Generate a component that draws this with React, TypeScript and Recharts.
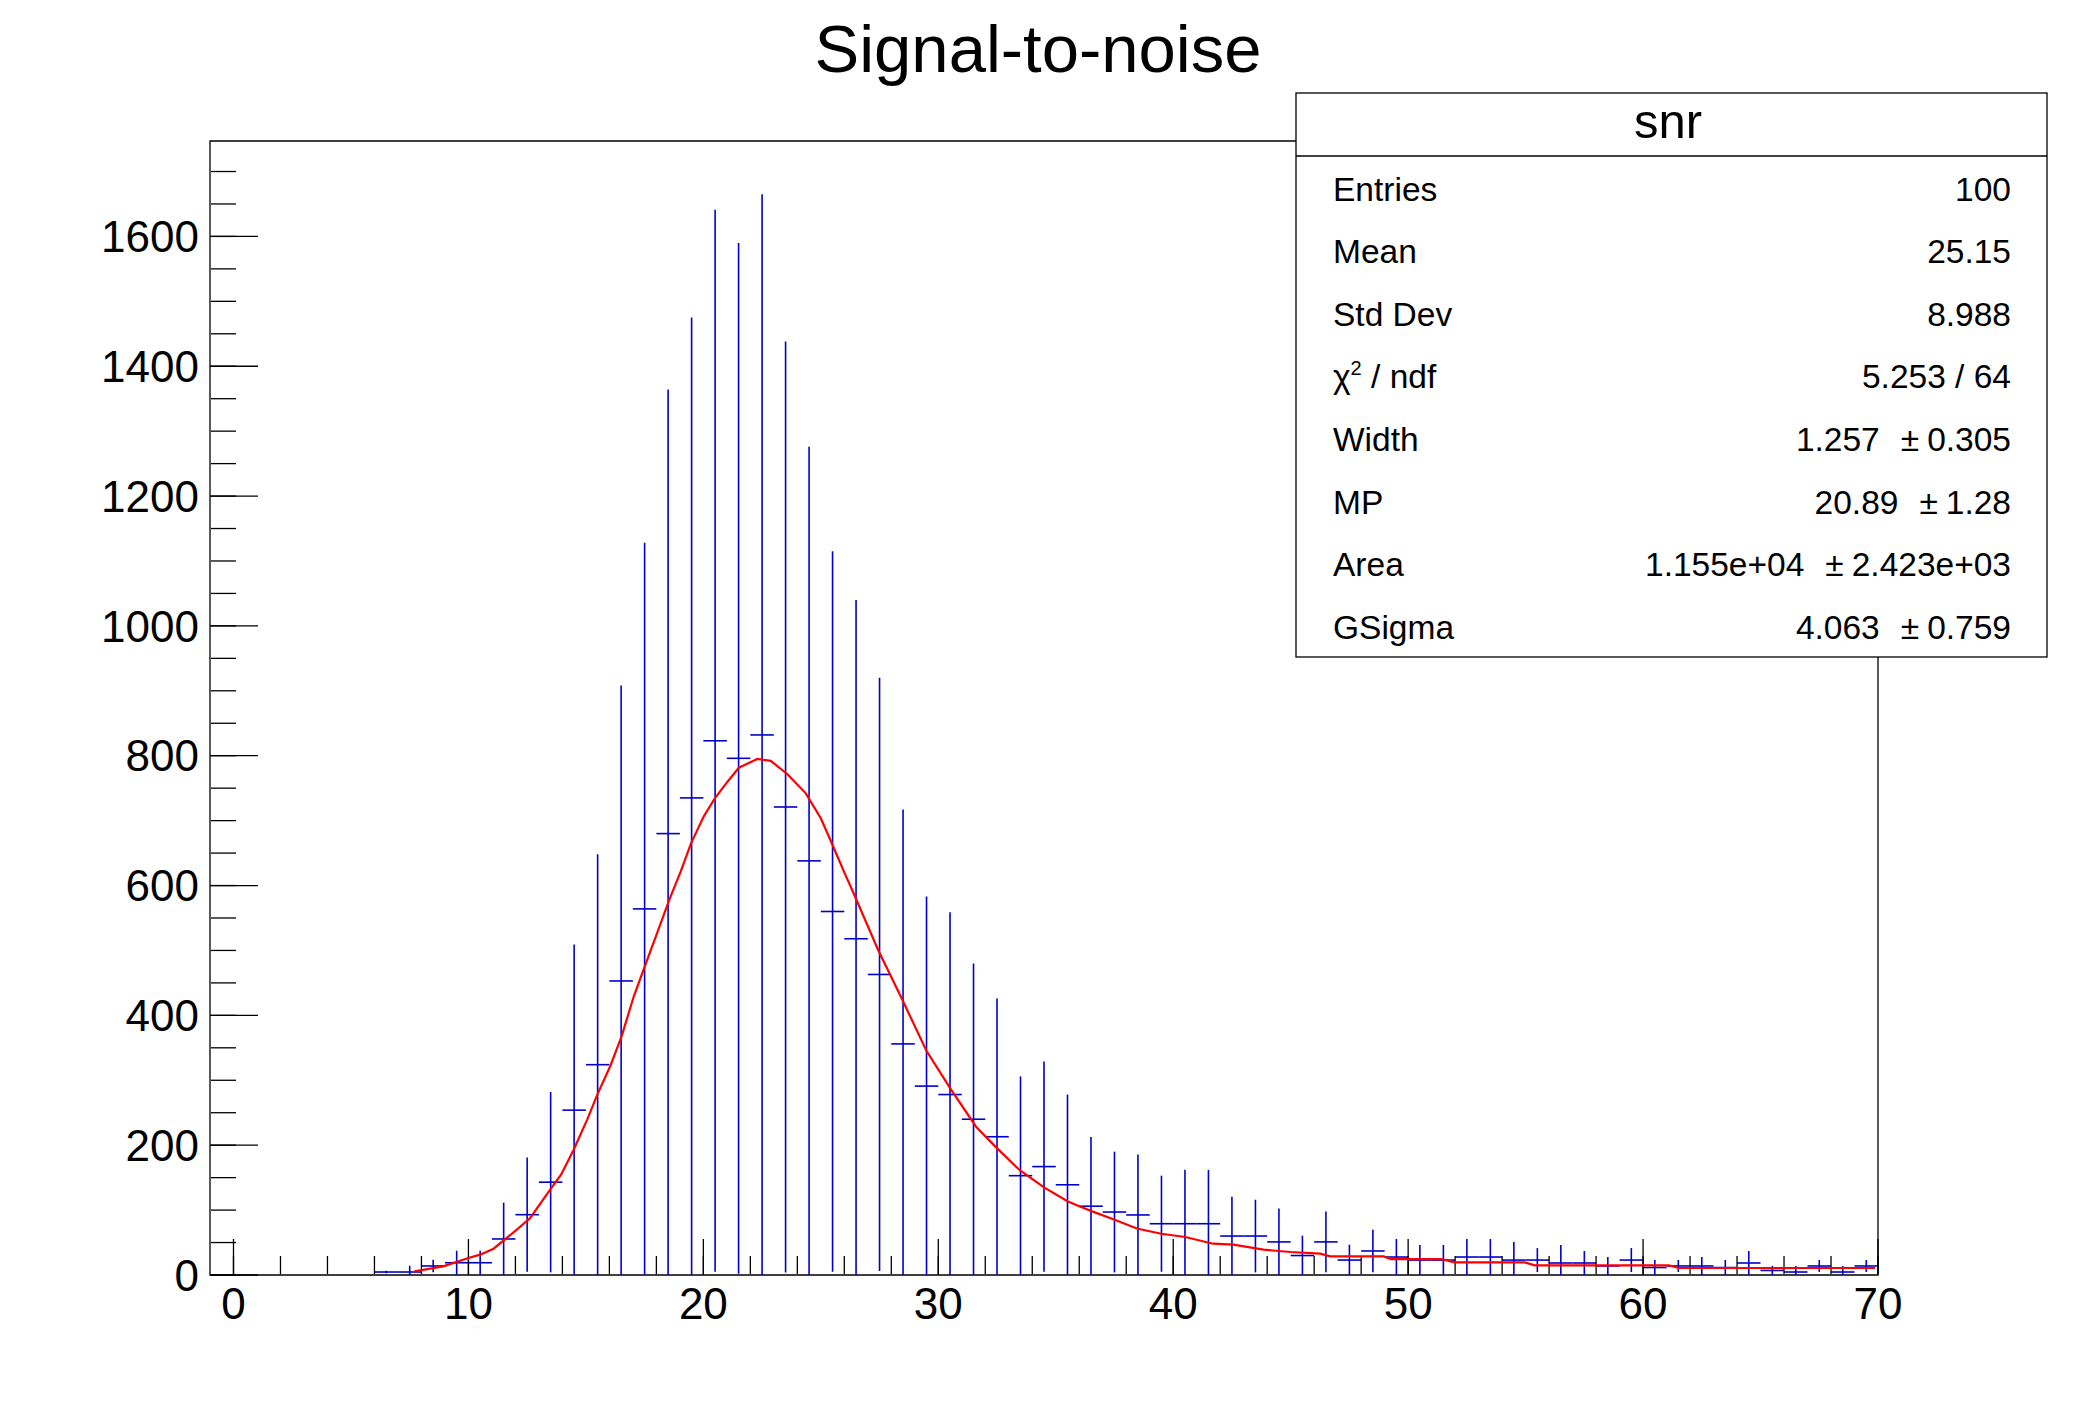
import React from 'react';
import { ScatterChart, Scatter, XAxis, YAxis, ErrorBar, ReferenceArea } from 'recharts';

const FONT = '"Liberation Sans", Arial, Helvetica, sans-serif';

// Histogram bins (bin centres), contents and errors
const binCenters = [6.5, 7.5, 8.5, 9.5, 10.5, 11.5, 12.5, 13.5, 14.5, 15.5, 16.5, 17.5, 18.5, 19.5, 20.5, 21.5, 22.5, 23.5, 24.5, 25.5, 26.5, 27.5, 28.5, 29.5, 30.5, 31.5, 32.5, 33.5, 34.5, 35.5, 36.5, 37.5, 38.5, 39.5, 40.5, 41.5, 42.5, 43.5, 44.5, 45.5, 46.5, 47.5, 48.5, 49.5, 50.5, 51.5, 52.5, 53.5, 54.5, 55.5, 56.5, 57.5, 58.5, 59.5, 60.5, 61.5, 62.5, 63.5, 64.5, 65.5, 66.5, 67.5, 68.5, 69.5];
const binValues = [4.6, 4.6, 13.9, 18.9, 18.9, 55.5, 92.9, 143, 254, 324, 453, 564, 680, 735, 823, 796, 832, 721, 638, 560, 518, 463, 356, 291, 278, 240, 213, 153, 167, 139, 106, 97, 92.5, 79, 79, 79, 60, 60, 51, 30, 51, 23, 37, 27.7, 23, 23, 27.7, 27.7, 23, 23, 18.5, 18.5, 13.9, 23, 11.5, 13.9, 13.9, 11.5, 18.5, 7, 4.6, 13.9, 4.6, 13.9];
const binErrors = [2, 9.7, 9.7, 18.5, 18.5, 56, 88, 139, 255, 324, 455, 564, 684, 740, 818, 794, 833, 717, 638, 555, 522, 457, 361, 292, 281, 240, 213, 153, 162, 139, 106.5, 93, 93, 74, 83, 83, 60.6, 56, 51.4, 30.6, 46.7, 23.7, 32.8, 27.8, 23.2, 23.2, 27.8, 27.8, 27.7, 18.5, 27.7, 18.5, 13.8, 18.5, 11.6, 9.2, 13.8, 11.6, 18.5, 7, 9.3, 9.2, 9.3, 9.2];

// Fit function (Landau x Gauss) sampled points
const fitX = [7.7, 8.93, 10.0, 10.5, 11.07, 11.54, 12.06, 12.63, 13.48, 13.95, 14.48, 15.05, 15.5, 16.04, 16.52, 17.04, 17.55, 18.03, 18.57, 19.03, 19.48, 20.02, 20.49, 21.02, 21.51, 22.3, 22.87, 23.58, 24.36, 25.0, 25.5, 25.99, 26.33, 27.44, 28.46, 29.49, 30.51, 31.6, 32.43, 33.47, 34.5, 35.5, 36.0, 36.55, 37.56, 38.45, 39.49, 40.51, 41.7, 42.56, 43.84, 44.98, 46.26, 46.68, 48.96, 49.26, 51.4, 51.97, 54.97, 55.39, 61.1, 61.53, 69.88];
const fitY = [5.6, 13.3, 26.2, 31.3, 40.5, 54.4, 69.8, 87.8, 131.4, 155, 193, 239, 279, 322, 367.6, 429.4, 479.6, 526.8, 579.8, 621, 665.3, 706.6, 734.4, 759.6, 781.5, 795, 792, 771.5, 742, 703.7, 662.4, 621, 593.4, 500.6, 424.8, 345.8, 287.4, 228.8, 197.8, 161.5, 135, 113.7, 106, 98, 84.3, 71.6, 63.6, 58.5, 48.2, 46.7, 39, 35.4, 32.8, 28.7, 28.7, 24.6, 24.6, 19.4, 19.4, 14.8, 14.8, 10.8, 10.8];

// Axis ticks
const xMajorTicks = [0, 10, 20, 30, 40, 50, 60, 70];
const xMinorTicks = [0, 2, 4, 6, 8, 10, 12, 14, 16, 18, 20, 22, 24, 26, 28, 30, 32, 34, 36, 38, 40, 42, 44, 46, 48, 50, 52, 54, 56, 58, 60, 62, 64, 66, 68, 70];
const yMajorTicks = [0, 200, 400, 600, 800, 1000, 1200, 1400, 1600];
const yMinorTicks = [0, 50, 100, 150, 200, 250, 300, 350, 400, 450, 500, 550, 600, 650, 700, 750, 800, 850, 900, 950, 1000, 1050, 1100, 1150, 1200, 1250, 1300, 1350, 1400, 1450, 1500, 1550, 1600, 1650, 1700];

// Stats box
const statLabels = ['Entries', 'Mean', 'Std Dev', 'CHI', 'Width', 'MP', 'Area', 'GSigma'];
const statValues = ['100', '25.15', '8.988', '5.253 / 64', '1.257', '20.89', '1.155e+04', '4.063'];
const statErrors = ['', '', '', '', '0.305', '1.28', '2.423e+03', '0.759'];

const X_DOMAIN: [number, number] = [-1, 70];
const Y_DOMAIN: [number, number] = [0, 1747];
const BLUE = '#0000cc';
const TICK_LINE = { stroke: '#000', strokeWidth: 1.3 };
const STAT_FS = 33.5;

const histData = binCenters.map((x, i) => ({
  x,
  y: binValues[i],
  ex: 0.5,
  ey: [Math.min(binValues[i], binErrors[i]), binErrors[i]],
}));
const fitData = fitX.map((x, i) => ({ x, y: fitY[i] }));

const Empty = () => <g />;
const NoLabel = () => <g />;

export default function App() {
  const rowY = (i: number) => 200.5 + 62.6 * i;
  return (
    <div style={{ position: 'absolute', left: 0, top: 0, width: 2088, height: 1416, background: '#fff' }}>
      <ScatterChart width={2088} height={1416} margin={{ top: 141, right: 210, bottom: 140, left: 209 }}>
        <XAxis xAxisId="x" type="number" dataKey="x" domain={X_DOMAIN} allowDataOverflow ticks={xMajorTicks} interval={0}
          height={1} tickSize={0} tickMargin={13} axisLine={false} tickLine={false}
          tick={{ fontSize: 44, fill: '#000', fontFamily: FONT }} />
        <XAxis xAxisId="xmaj" type="number" dataKey="x" domain={X_DOMAIN} allowDataOverflow ticks={xMajorTicks} interval={0}
          height={1} mirror tickSize={36} tick={NoLabel} axisLine={false} tickLine={TICK_LINE} />
        <XAxis xAxisId="xmin" type="number" dataKey="x" domain={X_DOMAIN} allowDataOverflow ticks={xMinorTicks} interval={0}
          height={1} mirror tickSize={18} tick={NoLabel} axisLine={false} tickLine={TICK_LINE} />
        <YAxis yAxisId="y" type="number" dataKey="y" domain={Y_DOMAIN} allowDataOverflow ticks={yMajorTicks} interval={0}
          width={1} tickSize={0} tickMargin={11} axisLine={false} tickLine={false}
          tick={{ fontSize: 44, fill: '#000', fontFamily: FONT }} />
        <YAxis yAxisId="ymaj" type="number" dataKey="y" domain={Y_DOMAIN} allowDataOverflow ticks={yMajorTicks} interval={0}
          width={1} mirror tickSize={48} tick={NoLabel} axisLine={false} tickLine={TICK_LINE} />
        <YAxis yAxisId="ymin" type="number" dataKey="y" domain={Y_DOMAIN} allowDataOverflow ticks={yMinorTicks} interval={0}
          width={1} mirror tickSize={25} tick={NoLabel} axisLine={false} tickLine={TICK_LINE} />
        <ReferenceArea xAxisId="x" yAxisId="y" x1={X_DOMAIN[0]} x2={X_DOMAIN[1]} y1={Y_DOMAIN[0]} y2={Y_DOMAIN[1]}
          fill="none" fillOpacity={0} stroke="#000" strokeWidth={1.3} ifOverflow="visible" />
        <Scatter xAxisId="xmaj" yAxisId="ymaj" data={fitData} shape={Empty} isAnimationActive={false} />
        <Scatter xAxisId="xmin" yAxisId="ymin" data={fitData} shape={Empty} isAnimationActive={false} />
        <Scatter xAxisId="x" yAxisId="y" data={histData} shape={Empty} isAnimationActive={false}>
          <ErrorBar dataKey="ex" direction="x" width={0} stroke={BLUE} strokeWidth={1.6} isAnimationActive={false} />
          <ErrorBar dataKey="ey" direction="y" width={0} stroke={BLUE} strokeWidth={1.6} isAnimationActive={false} />
        </Scatter>
        <Scatter xAxisId="x" yAxisId="y" data={fitData} shape={Empty} line={{ stroke: '#ff0000', strokeWidth: 2.2 }}
          lineType="joint" isAnimationActive={false} />
      </ScatterChart>
      <svg width={2088} height={1416} style={{ position: 'absolute', left: 0, top: 0, pointerEvents: 'none' }}
        fontFamily={FONT}>
        <text x={1038} y={72} fontSize={67} textAnchor="middle" fill="#000">Signal-to-noise</text>
        <rect x={1296} y={93} width={751} height={564} fill="#fff" stroke="#000" strokeWidth={1.3} />
        <line x1={1296} x2={2047} y1={156} y2={156} stroke="#000" strokeWidth={1.3} />
        <text x={1668} y={138} fontSize={49} textAnchor="middle" fill="#000">snr</text>
        {statLabels.map((lab, i) => (
          lab === 'CHI' ? (
            <text key={'l' + i} x={1333} y={rowY(i)} fontSize={STAT_FS} fill="#000">
              χ<tspan dy={-13} fontSize={20}>2</tspan><tspan dy={13} fontSize={STAT_FS}>{' / ndf'}</tspan>
            </text>
          ) : (
            <text key={'l' + i} x={1333} y={rowY(i)} fontSize={STAT_FS} fill="#000">{lab}</text>
          )
        ))}
        {statValues.map((v, i) => (
          statErrors[i] ? (
            <text key={'v' + i} x={2011} y={rowY(i)} fontSize={STAT_FS} textAnchor="end" fill="#000">
              {v}<tspan dx={21}>±</tspan><tspan dx={8}>{statErrors[i]}</tspan>
            </text>
          ) : (
            <text key={'v' + i} x={2011} y={rowY(i)} fontSize={STAT_FS} textAnchor="end" fill="#000">{v}</text>
          )
        ))}
      </svg>
    </div>
  );
}
